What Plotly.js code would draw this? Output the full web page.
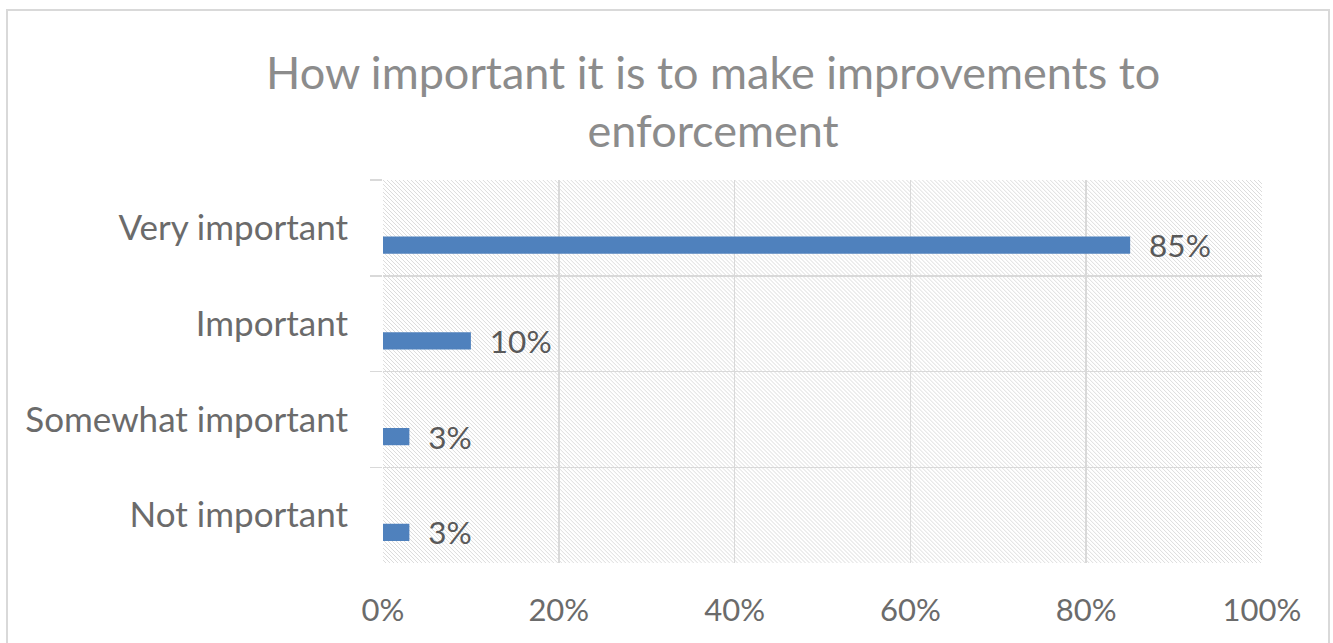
<!DOCTYPE html>
<html>
<head>
<meta charset="utf-8">
<script src="https://cdn.plot.ly/plotly-3.0.1.min.js"></script>
<style>
  html, body { margin: 0; padding: 0; background: #ffffff; }
  #frame { position: absolute; left: 6px; top: 9px; width: 1324px; height: 700px; border: 2px solid #d9d9d9; box-sizing: border-box; }
  #chart { position: absolute; left: 0; top: 0; width: 1333px; height: 643px; }
</style>
</head>
<body>
<div id="frame"></div>
<div id="chart"></div>
<script>
const categories = ["Very important", "Important", "Somewhat important", "Not important"];
const shares = [0.85, 0.10, 0.03, 0.03];
const xTickVals = [0, 0.2, 0.4, 0.6, 0.8, 1.0];
const xTickText = ["0%", "20%", "40%", "60%", "80%", "100%"];
const chartTitle = "How important it is to make improvements to<br>enforcement";

const hatchSvg = '<svg xmlns="http://www.w3.org/2000/svg" width="880" height="383" viewBox="0 0 880 383" preserveAspectRatio="none">' +
  '<defs><pattern id="h" width="4" height="4" patternUnits="userSpaceOnUse">' +
  '<rect width="4" height="4" fill="#ffffff"/>' +
  '<path d="M-1,-1 L5,5 M-1,3 L1,5 M3,-1 L5,1" stroke="#dcdcdc" stroke-width="1"/>' +
  '</pattern></defs><rect width="880" height="383" fill="url(#h)"/></svg>';
const hatchUri = 'data:image/svg+xml;charset=utf-8,' + encodeURIComponent(hatchSvg);

const font = "Lato, 'Open Sans', sans-serif";

const trace = {
  type: 'bar',
  orientation: 'h',
  x: shares,
  y: categories,
  width: 0.18,
  offset: 0.09,
  marker: { color: '#4f81bd' },
  text: shares.map(v => '\u00a0\u2009\u2009' + Math.round(v * 100) + '%'),
  textposition: 'outside',
  textfont: { family: font, size: 31.5, color: '#595959' },
  constraintext: 'none',
  cliponaxis: false,
  hoverinfo: 'skip'
};

const layout = {
  width: 1333,
  height: 643,
  margin: { l: 383, r: 71, t: 180, b: 80 },
  paper_bgcolor: 'rgba(0,0,0,0)',
  plot_bgcolor: 'rgba(0,0,0,0)',
  showlegend: false,
  title: {
    text: chartTitle,
    font: { family: font, size: 45, color: '#8c8c8c' },
    x: 0.535, xanchor: 'center', xref: 'container',
    y: 0.862, yanchor: 'top', yref: 'container'
  },
  xaxis: {
    range: [0, 1],
    tickvals: xTickVals,
    ticktext: xTickText,
    showgrid: true,
    gridcolor: '#d9d9d9',
    gridwidth: 1.5,
    zeroline: false,
    showline: false,
    ticks: '',
    ticklabelstandoff: 26,
    tickfont: { family: font, size: 31, color: '#6b6b6b' },
    fixedrange: true
  },
  yaxis: {
    type: 'category',
    categoryorder: 'array',
    categoryarray: categories,
    autorange: 'reversed',
    tickson: 'boundaries',
    ticks: 'outside',
    ticklen: 12,
    tickcolor: '#d9d9d9',
    tickwidth: 1.5,
    showgrid: true,
    gridcolor: '#d9d9d9',
    gridwidth: 1.5,
    zeroline: false,
    showline: false,
    ticklabelstandoff: 34,
    tickfont: { family: font, size: 35, color: '#6b6b6b' },
    fixedrange: true
  },
  images: [{
    source: hatchUri,
    xref: 'paper', yref: 'paper',
    x: 0, y: 1, sizex: 1, sizey: 1,
    xanchor: 'left', yanchor: 'top',
    sizing: 'stretch',
    layer: 'below'
  }]
};

Plotly.newPlot('chart', [trace], layout, { displayModeBar: false, staticPlot: true });
</script>
</body>
</html>
